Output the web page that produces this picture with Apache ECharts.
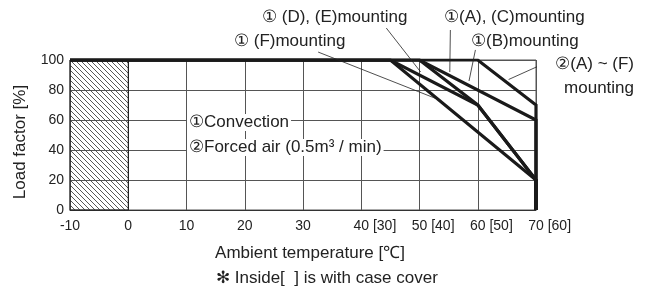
<!DOCTYPE html>
<html><head><meta charset="utf-8">
<script src="https://cdn.jsdelivr.net/npm/echarts@6/dist/echarts.min.js"></script>
<style>html,body{margin:0;padding:0;background:#fff}#c{width:648px;height:290px}</style>
</head><body><div id="c"></div>
<script>
// ---- data ----
const xTicks = [-10, 0, 10, 20, 30, 40, 50, 60, 70];
const xTickLabels = ['-10', '0', '10', '20', '30', '40', '50', '60', '70'];
const xCoverLabels = ['', '', '', '', '', '30', '40', '50', '60'];
const yTicks = [0, 20, 40, 60, 80, 100];

// convection (1)
const convF_x = [-10, 45, 70, 70];
const convF_y = [100, 100, 20, 0];
const convDE_x = [-10, 45, 60, 70, 70];
const convDE_y = [100, 100, 70, 20, 0];
const convAC_x = [-10, 50, 70, 70];
const convAC_y = [100, 100, 60, 0];
const convB_x = [-10, 50, 60, 70, 70];
const convB_y = [100, 100, 70, 20, 0];
// forced air (2)
const forced_x = [-10, 60, 70, 70];
const forced_y = [100, 100, 70, 0];

// hatched (not usable) range
const hatchRange = [-10, 0];

// leader lines for annotations [x0,y0,x1,y1]
const leaderF  = [32.6, 105.3, 52.7, 74.5];
const leaderDE = [44.3, 121.3, 50.2, 92];
const leaderAC = [55.3, 120, 55.2, 92];
const leaderB  = [59.6, 106.7, 58.5, 86];
const leaderFA = [71.2, 97.3, 65.3, 87];

// ---- chart ----
const pairs = (xs, ys) => xs.map((x, i) => [x, ys[i]]);
const FONT = 'Liberation Sans, Arial, sans-serif';

const hatch = document.createElement('canvas');
hatch.width = 5; hatch.height = 5;
(function () {
  const g = hatch.getContext('2d');
  g.strokeStyle = '#444'; g.lineWidth = 0.9;
  g.beginPath();
  g.moveTo(-1, -1); g.lineTo(6, 6);
  g.moveTo(-1, 4); g.lineTo(1, 6);
  g.moveTo(4, -1); g.lineTo(6, 1);
  g.stroke();
})();

const thick = (name, xs, ys) => ({
  type: 'line', name, data: pairs(xs, ys), symbol: 'none', z: 5,
  lineStyle: { color: '#1a1a1a', width: 3.2, join: 'miter' }, animation: false
});
const leader = (a) => ({
  type: 'line', data: [[a[0], a[1]], [a[2], a[3]]], symbol: 'none', clip: false, z: 6,
  lineStyle: { color: '#222', width: 0.8 }, animation: false, silent: true
});

const chart = echarts.init(document.getElementById('c'), null, { renderer: 'canvas' });
chart.setOption({
  animation: false,
  grid: { left: 70, right: 112, top: 60, bottom: 80, show: true, borderColor: '#555', borderWidth: 1 },
  xAxis: [{
    type: 'value', min: -10, max: 70, interval: 10,
    axisLine: { show: true, lineStyle: { color: '#333', width: 1 } },
    axisTick: { show: false },
    axisLabel: {
      margin: 9, showMinLabel: true, showMaxLabel: true,
      fontFamily: FONT, fontSize: 14, color: '#222',
      formatter: (v) => { const i = xTicks.indexOf(v); return i < 0 ? '' : xTickLabels[i]; }
    },
    splitLine: { show: true, lineStyle: { color: '#555', width: 1 } }
  }, {
    // bracketed values (with case cover), placed right after each number
    type: 'value', min: -10, max: 70, interval: 10, position: 'bottom',
    axisLine: { show: false }, axisTick: { show: false }, splitLine: { show: false },
    axisLabel: {
      margin: 9, showMinLabel: true, showMaxLabel: true, align: 'left',
      formatter: (v) => {
        const i = xTicks.indexOf(v);
        if (i < 0 || !xCoverLabels[i]) return '';
        return '{h|0}{v| [' + xCoverLabels[i] + ']}';
      },
      rich: {
        v: { fontFamily: FONT, fontSize: 14, color: '#222' },
        h: { fontFamily: FONT, fontSize: 14, color: 'rgba(0,0,0,0)' }
      }
    }
  }],
  yAxis: {
    type: 'value', min: 0, max: 100, interval: 20,
    axisLine: { show: true, lineStyle: { color: '#222', width: 1 } },
    axisTick: { show: false },
    axisLabel: { margin: 6, fontFamily: FONT, fontSize: 14, color: '#222',
      formatter: (v) => (yTicks.indexOf(v) >= 0 ? String(v) : '') },
    splitLine: { show: true, lineStyle: { color: '#555', width: 1 } }
  },
  series: [
    {
      type: 'line', data: [], symbol: 'none', silent: true,
      markArea: {
        silent: true,
        itemStyle: { color: { image: hatch, repeat: 'repeat' }, borderColor: '#222', borderWidth: 1 },
        data: [[{ xAxis: hatchRange[0], yAxis: 0 }, { xAxis: hatchRange[1], yAxis: 100 }]]
      }
    },
    thick('(F)', convF_x, convF_y),
    thick('(D),(E)', convDE_x, convDE_y),
    thick('(A),(C)', convAC_x, convAC_y),
    thick('(B)', convB_x, convB_y),
    thick('Forced', forced_x, forced_y),
    leader(leaderF), leader(leaderDE), leader(leaderAC), leader(leaderB), leader(leaderFA)
  ],
  graphic: [
    { type: 'text', left: 262, top: 9, style: { text: '① (D), (E)mounting', font: '17px ' + FONT, fill: '#222' } },
    { type: 'text', left: 444, top: 9, style: { text: '①(A), (C)mounting', font: '17px ' + FONT, fill: '#222' } },
    { type: 'text', left: 234, top: 33, style: { text: '① (F)mounting', font: '17px ' + FONT, fill: '#222' } },
    { type: 'text', left: 471, top: 33, style: { text: '①(B)mounting', font: '17px ' + FONT, fill: '#222' } },
    { type: 'text', right: 14, top: 56, style: { text: '②(A) ~ (F)', font: '17px ' + FONT, fill: '#222' } },
    { type: 'text', right: 14, top: 80, style: { text: 'mounting', font: '17px ' + FONT, fill: '#222' } },
    { type: 'text', left: 187, top: 114, z: 10, style: { text: '①Convection', font: '17px ' + FONT, fill: '#222', backgroundColor: '#fff', padding: [0, 2] } },
    { type: 'text', left: 187, top: 139, z: 10, style: { text: '②Forced air (0.5m³ / min)', font: '17px ' + FONT, fill: '#222', backgroundColor: '#fff', padding: [0, 2] } },
    { type: 'text', x: 310, y: 253, style: { text: 'Ambient temperature [℃]', font: '17px ' + FONT, fill: '#222', textAlign: 'center', textVerticalAlign: 'middle' } },
    { type: 'text', x: 20, y: 142, rotation: Math.PI / 2, style: { text: 'Load factor [%]', font: '17px ' + FONT, fill: '#222', textAlign: 'center', textVerticalAlign: 'middle' } },
    { type: 'text', left: 216, top: 270, style: { text: '✻ Inside[  ] is with case cover', font: '17px ' + FONT, fill: '#222' } }
  ]
});
</script></body></html>
